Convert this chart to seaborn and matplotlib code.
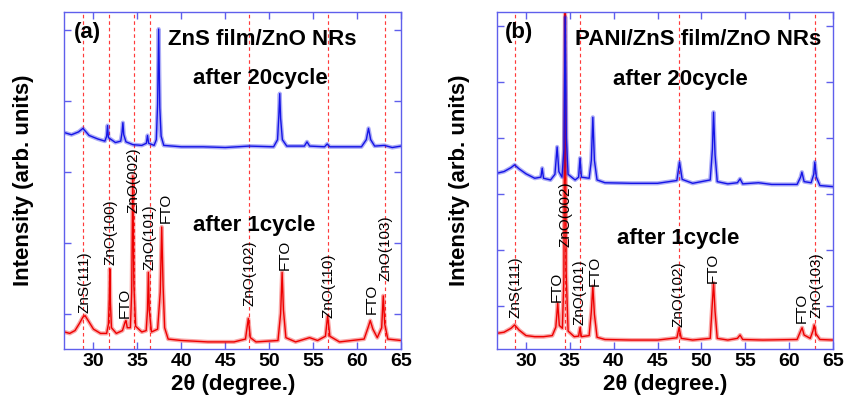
import matplotlib
matplotlib.use("Agg")
import matplotlib.pyplot as plt
import seaborn as sns
import pandas as pd

# ---------------- data ----------------
# 2theta (deg), intensity (arb. units; y-ticks at integer values)
a_20cycle = [(26.7, 3.55), (27.5, 3.52), (28.3, 3.56), (28.8, 3.61), (29.5, 3.51), (30.5, 3.46),
             (31.3, 3.43), (31.5, 3.50), (31.6, 3.65), (31.7, 3.48), (32.5, 3.41), (33.1, 3.43),
             (33.25, 3.55), (33.35, 3.69), (33.45, 3.52), (33.7, 3.42), (34.5, 3.38), (35.5, 3.37),
             (36.02, 3.40), (36.15, 3.51), (36.28, 3.40), (36.9, 3.37), (37.15, 3.45), (37.3, 3.95),
             (37.42, 5.01), (37.55, 3.90), (37.7, 3.50), (38.0, 3.37), (40.0, 3.35), (42.5, 3.35),
             (45.0, 3.34), (47.7, 3.36), (50.5, 3.35), (50.95, 3.45), (51.1, 3.80), (51.2, 4.10),
             (51.3, 3.75), (51.5, 3.45), (52.0, 3.36), (54.0, 3.36), (54.3, 3.42), (54.6, 3.36),
             (56.3, 3.35), (56.6, 3.39), (56.9, 3.35), (60.5, 3.35), (61.05, 3.45), (61.3, 3.61),
             (61.55, 3.45), (62.0, 3.36), (63.1, 3.37), (64.0, 3.34), (65.0, 3.36)]

a_1cycle = [(26.7, 0.74), (27.3, 0.72), (27.9, 0.76), (28.4, 0.86), (28.8, 0.95), (29.05, 0.97),
            (29.5, 0.88), (30.0, 0.78), (30.8, 0.72), (31.5, 0.72), (31.7, 0.85), (31.8, 1.20),
            (31.86, 1.63), (31.93, 1.15), (32.05, 0.80), (32.6, 0.72), (33.3, 0.76), (33.6, 0.88),
            (33.7, 0.90), (33.85, 0.80), (34.2, 0.80), (34.35, 1.30), (34.48, 2.94), (34.6, 1.40),
            (34.8, 0.82), (35.5, 0.74), (36.0, 0.76), (36.15, 1.05), (36.25, 1.58), (36.35, 1.05),
            (36.6, 0.74), (37.3, 0.78), (37.6, 1.30), (37.77, 2.22), (37.92, 1.40), (38.1, 0.80),
            (38.5, 0.64), (40.0, 0.62), (43.0, 0.60), (46.0, 0.60), (47.3, 0.64), (47.62, 0.93),
            (47.85, 0.66), (48.5, 0.60), (51.0, 0.62), (51.3, 1.00), (51.47, 1.58), (51.62, 1.05),
            (51.9, 0.66), (53.0, 0.60), (54.6, 0.66), (55.5, 0.62), (56.4, 0.68), (56.65, 0.97),
            (56.9, 0.68), (58.0, 0.60), (60.8, 0.64), (61.3, 0.82), (61.5, 0.90), (61.8, 0.78),
            (62.3, 0.66), (62.8, 0.80), (62.98, 1.25), (63.15, 0.85), (63.5, 0.64), (65.0, 0.62)]

b_20cycle = [(26.7, 3.37), (27.5, 3.40), (28.3, 3.47), (28.7, 3.52), (29.2, 3.45), (30.0, 3.36),
             (31.0, 3.28), (31.7, 3.30), (31.85, 3.46), (32.0, 3.28), (32.8, 3.25), (33.3, 3.35),
             (33.55, 3.84), (33.75, 3.40), (34.1, 3.30), (34.33, 3.80), (34.47, 6.16), (34.6, 4.00),
             (34.8, 3.35), (35.6, 3.25), (36.0, 3.30), (36.16, 3.64), (36.32, 3.30), (37.2, 3.28),
             (37.45, 3.60), (37.62, 4.37), (37.8, 3.60), (38.1, 3.25), (39.0, 3.20), (42.0, 3.19),
             (45.0, 3.19), (47.2, 3.24), (47.5, 3.57), (47.8, 3.26), (49.0, 3.19), (51.0, 3.25),
             (51.25, 3.80), (51.38, 4.46), (51.55, 3.70), (51.8, 3.22), (53.0, 3.18), (54.1, 3.20),
             (54.4, 3.27), (54.7, 3.18), (56.5, 3.20), (58.0, 3.17), (60.9, 3.17), (61.3, 3.30),
             (61.45, 3.39), (61.7, 3.22), (62.5, 3.20), (62.8, 3.35), (62.92, 3.57), (63.1, 3.30),
             (63.5, 3.15), (65.0, 3.13)]

b_1cycle = [(26.7, 0.51), (27.5, 0.53), (28.3, 0.60), (28.7, 0.66), (29.2, 0.57), (30.0, 0.47),
            (31.0, 0.45), (32.0, 0.45), (33.0, 0.47), (33.4, 0.62), (33.62, 1.05), (33.8, 0.65),
            (34.15, 0.60), (34.32, 1.50), (34.45, 6.60), (34.58, 1.60), (34.8, 0.55), (35.5, 0.45),
            (36.0, 0.46), (36.16, 0.61), (36.32, 0.45), (37.2, 0.47), (37.45, 0.90), (37.62, 1.35),
            (37.8, 0.85), (38.1, 0.44), (39.0, 0.40), (42.0, 0.39), (45.0, 0.39), (47.2, 0.43),
            (47.45, 0.61), (47.7, 0.42), (49.0, 0.39), (51.0, 0.42), (51.2, 0.95), (51.38, 1.41),
            (51.55, 0.90), (51.8, 0.42), (53.0, 0.39), (54.1, 0.42), (54.4, 0.48), (54.7, 0.40),
            (57.0, 0.39), (60.9, 0.40), (61.3, 0.55), (61.47, 0.61), (61.7, 0.48), (62.4, 0.42),
            (62.7, 0.55), (62.85, 0.66), (63.05, 0.50), (63.5, 0.40), (65.0, 0.39)]

# reference (dashed) line positions
a_ref_lines = [28.86, 31.82, 34.56, 36.38, 47.70, 56.70, 63.14]
b_ref_lines = [28.75, 34.43, 36.16, 47.45, 62.92]

# peak labels
a_labels = ["ZnS(111)", "ZnO(100)", "FTO", "ZnO(002)", "ZnO(101)", "FTO", "ZnO(102)", "FTO",
            "ZnO(110)", "FTO", "ZnO(103)"]
a_label_x = [28.95, 31.9, 33.6, 34.6, 36.34, 38.17, 47.73, 51.72, 56.73, 61.62, 63.22]
a_label_y = [1.01, 1.68, 0.94, 2.41, 1.61, 2.27, 1.11, 1.61, 0.94, 1.00, 1.46]

b_labels = ["ZnS(111)", "FTO", "ZnO(002)", "ZnO(101)", "FTO", "ZnO(102)", "FTO", "FTO", "ZnO(103)"]
b_label_x = [28.75, 33.52, 34.54, 36.13, 37.83, 47.37, 51.34, 61.44, 63.14]
b_label_y = [0.79, 1.07, 2.05, 0.66, 1.36, 0.63, 1.41, 0.70, 0.79]

x_ticks = [30, 35, 40, 45, 50, 55, 60, 65]
a_y_ticks = [1, 2, 3, 4, 5]
b_y_ticks = [1, 2, 3, 4, 5, 6]

# ---------------- style ----------------
sns.set_theme(style="ticks")
plt.rcParams["font.family"] = ["Liberation Sans", "DejaVu Sans"]
plt.rcParams["text.color"] = "black"
plt.rcParams["axes.labelcolor"] = "black"
plt.rcParams["xtick.labelcolor"] = "black"

BLUE = "#1414e6"
RED = "#ee0000"
DASH = "#ff3a3a"
FRAME = "#5f5fec"

fig = plt.figure(figsize=(8.46, 4.07), dpi=100)
ax_a = fig.add_axes([0.0762, 0.1425, 0.3978, 0.828])
ax_b = fig.add_axes([0.5875, 0.1425, 0.3972, 0.828])


def draw_curve(ax, pts, color):
    df = pd.DataFrame(pts, columns=["x", "y"])
    # soft underlay mimicking the noisy trace
    sns.lineplot(data=df, x="x", y="y", ax=ax, color=color, lw=3.0, alpha=0.35,
                 estimator=None, sort=False)
    sns.lineplot(data=df, x="x", y="y", ax=ax, color=color, lw=1.0,
                 estimator=None, sort=False)


panels = [
    (ax_a, a_20cycle, a_1cycle, a_ref_lines, a_labels, a_label_x, a_label_y, a_y_ticks,
     (0.5, 5.25), "(a)", "ZnS film/ZnO NRs", (0.587, 0.918), (0.581, 0.804), (0.563, 0.365), -0.09),
    (ax_b, b_20cycle, b_1cycle, b_ref_lines, b_labels, b_label_x, b_label_y, b_y_ticks,
     (0.23, 6.25), "(b)", "PANI/ZnS film/ZnO NRs", (0.598, 0.917), (0.545, 0.801), (0.539, 0.329), -0.08),
]

for (ax, top, bot, refs, labs, lx, ly, yt, ylim, tag, title, tpos, p20, p1, ylx) in panels:
    for xr in refs:
        ax.axvline(xr, color=DASH, lw=0.85, ls=(0, (3, 2.5)), zorder=1)
    draw_curve(ax, bot, RED)
    draw_curve(ax, top, BLUE)

    for t, x, y in zip(labs, lx, ly):
        ax.text(x, y, t, rotation=90, ha="center", va="bottom", fontsize=11, color="black")

    ax.set_xlim(26.7, 65)
    ax.set_ylim(*ylim)
    ax.set_xticks(x_ticks)
    ax.set_yticks(yt)
    ax.set_yticklabels([])
    ax.tick_params(axis="both", direction="in", top=True, right=True, length=5,
                   width=1, color=FRAME)
    ax.tick_params(axis="x", labelsize=14, pad=3, labelcolor="black")
    for lab in ax.get_xticklabels():
        lab.set_fontweight("bold")
    for sp in ax.spines.values():
        sp.set_color(FRAME)
        sp.set_linewidth(1.0)

    ax.set_xlabel("2\u03b8 (degree.)", fontsize=16, fontweight="bold", color="black")
    ax.xaxis.set_label_coords(0.5, -0.074)
    ax.set_ylabel("Intensity (arb. units)", fontsize=16, fontweight="bold", color="black")
    ax.yaxis.set_label_coords(ylx, 0.5)

    ax.text(0.067 if tag == "(a)" else 0.065, 0.938, tag, transform=ax.transAxes,
            fontsize=16, fontweight="bold", ha="center", va="center")
    ax.text(*tpos, title, transform=ax.transAxes, fontsize=16, fontweight="bold",
            ha="center", va="center")
    ax.text(*p20, "after 20cycle", transform=ax.transAxes, fontsize=16, fontweight="bold",
            ha="center", va="center")
    ax.text(*p1, "after 1cycle", transform=ax.transAxes, fontsize=16, fontweight="bold",
            ha="center", va="center")

fig.savefig("out.png", dpi=100)
